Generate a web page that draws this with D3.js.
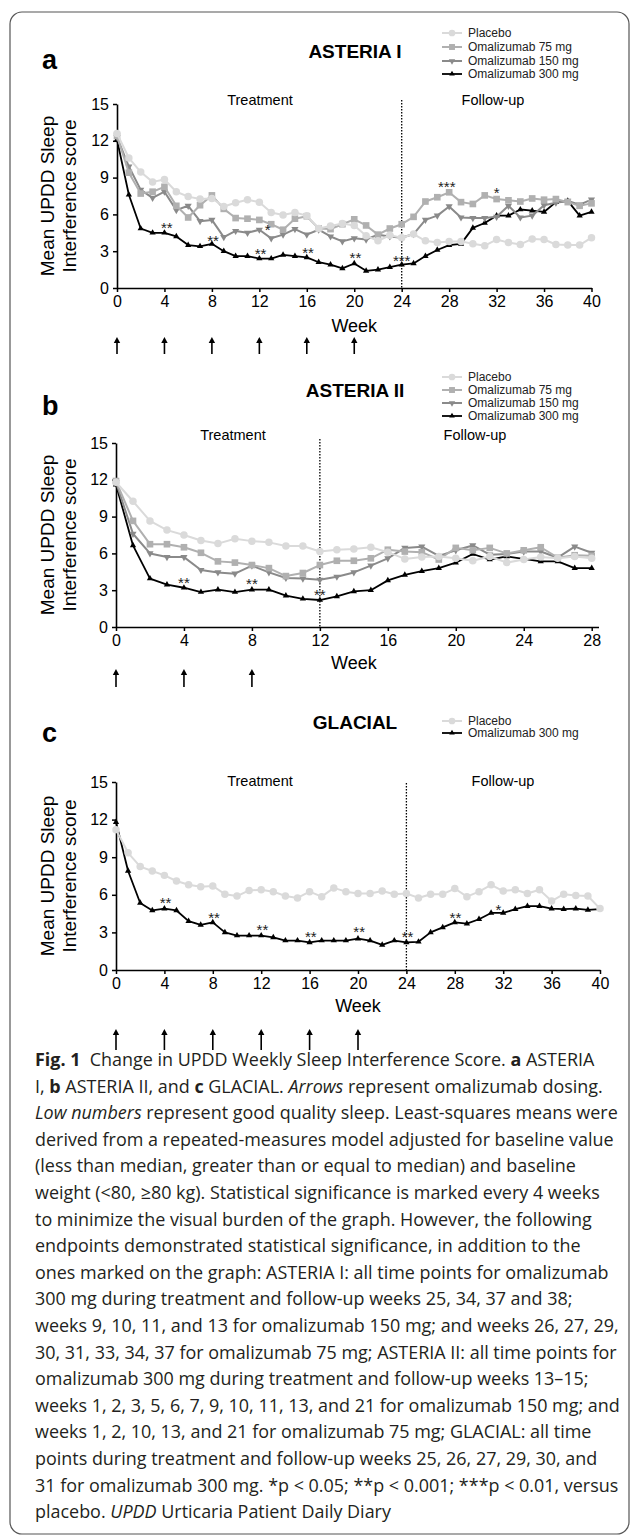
<!DOCTYPE html>
<html><head><meta charset="utf-8">
<script src="https://cdn.jsdelivr.net/npm/d3@7"></script>
<style>
html,body{margin:0;padding:0;background:#fff;}
svg{display:block;}
</style></head><body>
<svg id="fig" width="630" height="1537"></svg>
<script>
// ---------------- DATA ----------------
const weeks40 = [0,1,2,3,4,5,6,7,8,9,10,11,12,13,14,15,16,17,18,19,20,21,22,23,24,25,26,27,28,29,30,31,32,33,34,35,36,37,38,39,40];
const weeks28 = [0,1,2,3,4,5,6,7,8,9,10,11,12,13,14,15,16,17,18,19,20,21,22,23,24,25,26,27,28];
const yTicks = [0,3,6,9,12,15];
const xTicks40 = [0,4,8,12,16,20,24,28,32,36,40];
const xTicks28 = [0,4,8,12,16,20,24,28];
const doseWeeks6 = [0,4,8,12,16,20];
const doseWeeks3 = [0,4,8];
const seriesNames = ["Placebo","Omalizumab 75 mg","Omalizumab 150 mg","Omalizumab 300 mg"];

// ASTERIA I
const placeboA = [12.6,10.6,9.45,8.65,8.85,7.85,7.45,7.25,7.3,6.65,6.95,7.2,7.0,6.15,5.95,6.15,5.9,4.85,5.05,5.25,5.1,4.25,3.85,4.3,4.1,4.4,3.85,3.7,3.8,3.8,3.6,3.45,3.95,3.7,3.55,4.0,3.95,3.55,3.5,3.5,4.1];
const omal75A  = [12.4,9.4,7.7,7.85,8.25,6.7,5.75,6.75,7.55,6.45,5.7,5.65,5.55,5.2,4.75,5.65,5.85,4.85,4.8,5.2,5.6,5.1,4.35,4.85,5.2,5.8,7.05,7.4,7.8,7.0,6.85,7.55,7.25,7.15,7.05,7.3,7.2,7.25,7.0,6.7,6.9];
const omal150A = [12.3,9.9,8.0,7.35,7.85,6.35,6.7,5.45,5.55,4.15,4.65,4.5,4.75,4.05,4.35,4.8,4.35,4.75,4.2,3.8,4.05,3.95,4.35,4.2,4.1,4.4,5.55,5.9,6.65,5.75,5.7,5.7,5.8,6.7,5.75,5.9,6.75,6.95,7.1,6.8,7.2];
const omal300A = [12.1,7.6,4.85,4.5,4.5,4.2,3.5,3.4,3.6,3.0,2.6,2.6,2.4,2.4,2.7,2.6,2.5,2.1,1.9,1.6,2.0,1.4,1.5,1.7,1.9,2.0,2.6,3.1,3.5,3.6,4.9,5.3,5.9,5.9,6.4,6.3,6.2,7.0,7.1,5.9,6.2];
const sigWeeksA = [4.2,8.1,12.1,12.7,16.1,20.1,24,27.8,32.0];
const sigValsA  = [5.2,4.15,3.05,5.05,3.15,2.7,2.45,8.5,8.05];
const sigLabelsA = ["**","**","**","*","**","**","***","***","*"];

// ASTERIA II
const placeboB = [11.8,10.25,8.65,7.9,7.5,7.05,6.8,7.2,7.0,6.9,6.6,6.6,6.15,6.3,6.35,6.5,6.1,5.55,5.7,5.75,5.6,5.4,5.75,5.25,5.5,5.7,5.6,5.75,5.6];
const omal75B  = [11.9,8.65,6.75,6.75,6.5,6.05,5.35,5.25,5.05,4.8,4.15,4.4,5.05,5.4,5.4,5.6,6.3,6.15,6.1,5.5,6.45,6.25,6.45,6.0,6.25,6.5,5.65,5.85,5.8];
const omal150B = [11.8,7.6,6.0,5.7,5.7,4.65,4.45,4.35,5.0,4.45,4.0,3.95,3.85,4.1,4.45,5.0,5.6,6.45,6.55,5.8,6.25,6.65,5.9,5.95,6.15,6.15,5.65,6.55,6.05];
const omal300B = [11.6,6.65,3.95,3.45,3.2,2.85,3.05,2.85,3.05,3.05,2.55,2.3,2.2,2.5,2.9,3.0,3.8,4.25,4.55,4.8,5.25,5.95,5.5,5.75,null,5.35,5.35,4.8,4.8];
const sigWeeksB = [4,8,12];
const sigValsB  = [3.9,3.8,2.9];
const sigLabelsB = ["**","**","**"];

// GLACIAL
const placeboC = [11.2,9.35,8.25,7.9,7.55,7.1,6.8,6.65,6.7,6.05,5.9,6.35,6.4,6.25,5.9,5.75,6.25,5.85,6.55,6.25,6.1,6.1,6.3,6.05,6.1,5.75,6.05,6.05,6.5,5.85,6.25,6.8,6.3,6.4,6.1,6.4,5.5,6.05,5.95,5.9,4.9];
const omal300C = [11.8,7.9,5.35,4.75,4.9,4.75,3.9,3.6,3.8,3.0,2.75,2.75,2.75,2.6,2.35,2.35,2.2,2.35,2.35,2.35,2.5,2.35,2.0,2.35,2.2,2.25,3.0,3.4,3.8,3.7,4.05,4.55,4.55,4.85,5.1,5.1,4.9,4.85,4.9,4.8,4.85];
const sigWeeksC = [4.1,8.1,12.1,16.1,20.1,24.1,28.05,31.6];
const sigValsC  = [5.6,4.45,3.45,2.95,3.3,2.95,4.4,5.05];
const sigLabelsC = ["**","**","**","**","**","**","**","*"];

const captionLines = [
 [["Fig. 1","b"],["  Change in UPDD Weekly Sleep Interference Score. ",""],["a","b"],[" ASTERIA",""]],
 [["I, ",""],["b","b"],[" ASTERIA II, and ",""],["c","b"],[" GLACIAL. ",""],["Arrows","i"],[" represent omalizumab dosing.",""]],
 [["Low numbers","i"],[" represent good quality sleep. Least-squares means were",""]],
 [["derived from a repeated-measures model adjusted for baseline value",""]],
 [["(less than median, greater than or equal to median) and baseline",""]],
 [["weight (<80, \u226580 kg). Statistical significance is marked every 4 weeks",""]],
 [["to minimize the visual burden of the graph. However, the following",""]],
 [["endpoints demonstrated statistical significance, in addition to the",""]],
 [["ones marked on the graph: ASTERIA I: all time points for omalizumab",""]],
 [["300 mg during treatment and follow-up weeks 25, 34, 37 and 38;",""]],
 [["weeks 9, 10, 11, and 13 for omalizumab 150 mg; and weeks 26, 27, 29,",""]],
 [["30, 31, 33, 34, 37 for omalizumab 75 mg; ASTERIA II: all time points for",""]],
 [["omalizumab 300 mg during treatment and follow-up weeks 13\u201315;",""]],
 [["weeks 1, 2, 3, 5, 6, 7, 9, 10, 11, 13, and 21 for omalizumab 150 mg; and",""]],
 [["weeks 1, 2, 10, 13, and 21 for omalizumab 75 mg; GLACIAL: all time",""]],
 [["points during treatment and follow-up weeks 25, 26, 27, 29, 30, and",""]],
 [["31 for omalizumab 300 mg. *p < 0.05; **p < 0.001; ***p < 0.01, versus",""]],
 [["placebo. ",""],["UPDD","i"],[" Urticaria Patient Daily Diary",""]]
];

// ---------------- DRAWING ----------------
const FONT = "'Liberation Sans', Arial, Helvetica, sans-serif";
const CAPFONT = "'Open Sans', 'Noto Sans', sans-serif";
const svg = d3.select('#fig');

svg.append('rect').attr('x',10).attr('y',12).attr('width',619).attr('height',1522)
  .attr('rx',12).attr('fill','none').attr('stroke','#555').attr('stroke-width',1.2);

const styles = {
  "Placebo": {color:'#dadada', sym:d3.symbolCircle, size:44, rot:0, w:2},
  "Omalizumab 75 mg": {color:'#b0b0b0', sym:d3.symbolSquare, size:44, rot:0, w:2},
  "Omalizumab 150 mg": {color:'#8a8a8a', sym:d3.symbolTriangle, size:22, rot:180, w:2},
  "Omalizumab 300 mg": {color:'#000000', sym:d3.symbolTriangle, size:17, rot:0, w:1.8}
};

function drawPanel(p){
  const g = svg.append('g');
  const x = d3.scaleLinear().domain([0,p.xMax]).range([p.x0,p.x1]);
  const y = d3.scaleLinear().domain([0,15]).range([p.y0,p.y15]);

  // letter & title
  g.append('text').attr('x',42).attr('y',p.letterY).attr('font-family',FONT)
    .attr('font-weight','bold').attr('font-size',27).attr('fill','#000').text(p.letter);
  g.append('text').attr('x',355).attr('y',p.titleY).attr('text-anchor','middle').attr('font-family',FONT)
    .attr('font-weight','bold').attr('font-size',19).attr('fill','#000').text(p.title);

  // legend
  p.series.forEach((s,i)=>{
    const st = styles[s.name];
    const ly = p.legendY[i];
    g.append('line').attr('x1',442).attr('x2',462).attr('y1',ly).attr('y2',ly)
      .attr('stroke',st.color).attr('stroke-width',st.w);
    g.append('path').attr('d',d3.symbol().type(st.sym).size(st.size*0.8)())
      .attr('transform',`translate(452,${ly}) rotate(${st.rot})`).attr('fill',st.color);
    g.append('text').attr('x',468).attr('y',ly+4.3).attr('font-family',FONT).attr('font-size',12)
      .attr('fill','#222').text(s.name);
  });

  // phase labels
  g.append('text').attr('x',p.treatX).attr('y',p.phaseY+5).attr('text-anchor','middle')
    .attr('font-family',FONT).attr('font-size',14.5).text('Treatment');
  g.append('text').attr('x',p.followX).attr('y',p.phaseY+5).attr('text-anchor','middle')
    .attr('font-family',FONT).attr('font-size',14.5).text('Follow-up');

  // axes
  const ya = g.append('g').attr('transform',`translate(${p.x0},0)`)
    .call(d3.axisLeft(y).tickValues(yTicks).tickSize(4).tickPadding(4).tickSizeOuter(0));
  const xa = g.append('g').attr('transform',`translate(0,${p.y0})`)
    .call(d3.axisBottom(x).tickValues(p.xTicks).tickSize(4).tickPadding(4).tickSizeOuter(0));
  [ya,xa].forEach(a=>{
    a.select('.domain').attr('stroke','#000').attr('stroke-width',1.6);
    a.selectAll('.tick line').attr('stroke','#000').attr('stroke-width',1.5);
    a.selectAll('.tick text').attr('font-family',FONT).attr('font-size',16).attr('fill','#000');
  });

  // axis titles
  const cy = (p.y0+p.y15)/2;
  g.append('text').attr('transform',`translate(54,${cy}) rotate(-90)`).attr('text-anchor','middle')
    .attr('font-family',FONT).attr('font-size',19).text('Mean UPDD Sleep');
  g.append('text').attr('transform',`translate(76,${cy}) rotate(-90)`).attr('text-anchor','middle')
    .attr('font-family',FONT).attr('font-size',19).text('Interference score');
  g.append('text').attr('x',(x(0)+x(p.xTicks[p.xTicks.length-1]))/2).attr('y',p.weekY+6.5)
    .attr('text-anchor','middle').attr('font-family',FONT).attr('font-size',18).text('Week');

  // divider
  g.append('line').attr('x1',x(p.divider)).attr('x2',x(p.divider)).attr('y1',p.divTop).attr('y2',p.y0)
    .attr('stroke','#000').attr('stroke-width',1.3).attr('stroke-dasharray','1.5,1.5');

  // series (drawn 300 first, placebo last)
  p.series.slice().reverse().forEach(s=>{
    const st = styles[s.name];
    const pts = p.weeks.map((w,i)=>({w:w,v:s.values[i]})).filter(d=>d.v!==null);
    g.append('path').datum(pts).attr('fill','none').attr('stroke',st.color).attr('stroke-width',st.w)
      .attr('stroke-linejoin','round')
      .attr('d',d3.line().x(d=>x(d.w)).y(d=>y(d.v)));
    g.selectAll(null).data(pts).enter().append('path')
      .attr('d',d3.symbol().type(st.sym).size(st.size)())
      .attr('transform',d=>`translate(${x(d.w)},${y(d.v)}) rotate(${st.rot})`)
      .attr('fill',st.color);
  });

  // significance
  p.sigW.forEach((w,i)=>{
    g.append('text').attr('x',x(w)).attr('y',y(p.sigV[i])+8.5).attr('text-anchor','middle')
      .attr('font-family',FONT).attr('font-size',15).attr('fill','#222').text(p.sigL[i]);
  });

  // dosing arrows
  p.dose.forEach(w=>{
    const ax = x(w);
    g.append('line').attr('x1',ax).attr('x2',ax).attr('y1',p.arrowBot).attr('y2',p.arrowTop+4)
      .attr('stroke','#000').attr('stroke-width',1.6);
    g.append('path').attr('d',`M${ax-3.2},${p.arrowTop+6} L${ax},${p.arrowTop} L${ax+3.2},${p.arrowTop+6} Z`)
      .attr('fill','#000');
  });
}

drawPanel({letter:'a', title:'ASTERIA I', letterY:69, titleY:58, legendY:[33,47,61,74],
  phaseY:100, treatX:260, followX:493, x0:117, x1:591.5, xMax:40, y0:288, y15:104,
  xTicks:xTicks40, weeks:weeks40, divider:24, divTop:100, weekY:325, arrowTop:337, arrowBot:354,
  dose:doseWeeks6, sigW:sigWeeksA, sigV:sigValsA, sigL:sigLabelsA,
  series:[{name:seriesNames[0],values:placeboA},{name:seriesNames[1],values:omal75A},
          {name:seriesNames[2],values:omal150A},{name:seriesNames[3],values:omal300A}]});

drawPanel({letter:'b', title:'ASTERIA II', letterY:415, titleY:397, legendY:[377,390,403,416],
  phaseY:435, treatX:233, followX:475, x0:116, x1:598.5, xMax:28.4, y0:627, y15:443,
  xTicks:xTicks28, weeks:weeks28, divider:12, divTop:439, weekY:662, arrowTop:669, arrowBot:687,
  dose:doseWeeks3, sigW:sigWeeksB, sigV:sigValsB, sigL:sigLabelsB,
  series:[{name:seriesNames[0],values:placeboB},{name:seriesNames[1],values:omal75B},
          {name:seriesNames[2],values:omal150B},{name:seriesNames[3],values:omal300B}]});

drawPanel({letter:'c', title:'GLACIAL', letterY:742, titleY:729, legendY:[721,733],
  phaseY:781, treatX:260, followX:503, x0:116, x1:600, xMax:40, y0:970, y15:782,
  xTicks:xTicks40, weeks:weeks40, divider:24, divTop:783, weekY:1005, arrowTop:1029, arrowBot:1050,
  dose:doseWeeks6, sigW:sigWeeksC, sigV:sigValsC, sigL:sigLabelsC,
  series:[{name:seriesNames[0],values:placeboC},{name:seriesNames[3],values:omal300C}]});

// caption
const capG = svg.append('g');
const capTexts = captionLines.map((segs,i)=>{
  const t = capG.append('text').attr('x',35).attr('y',1066 + i*26.6)
    .attr('font-family',CAPFONT).attr('font-size',18).attr('fill','#231f20')
    .style('white-space','pre');
  segs.forEach(s=>{
    const ts = t.append('tspan').text(s[0]);
    if (s[1]==='b') ts.attr('font-weight','bold');
    if (s[1]==='i') ts.attr('font-style','italic');
  });
  return t;
});
const refLen = capTexts[3].node().getComputedTextLength();
const fs = 18*579/refLen;
capTexts.forEach(t=>t.attr('font-size',fs));
</script>
</body></html>
